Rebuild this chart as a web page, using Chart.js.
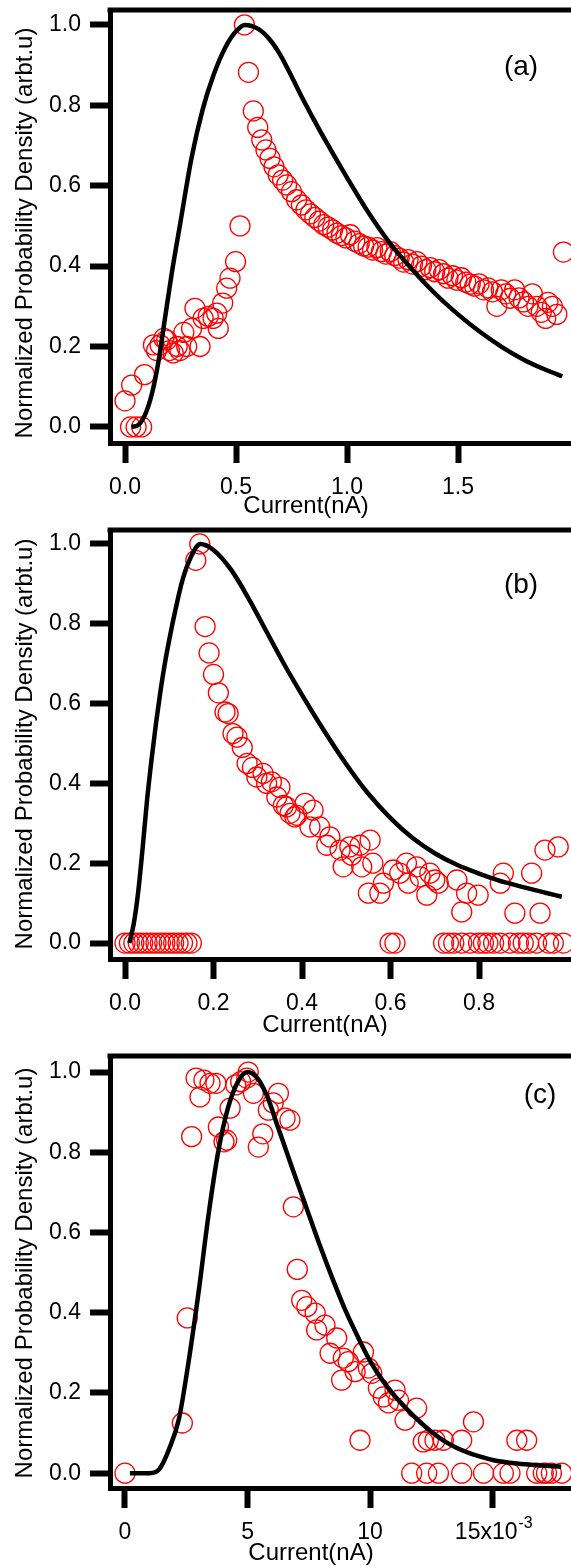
<!DOCTYPE html>
<html>
<head>
<meta charset="utf-8">
<script src="https://cdn.jsdelivr.net/npm/chart.js@4.4.0/dist/chart.umd.min.js"></script>
<style>
  html, body { margin: 0; padding: 0; background: #fff; overflow: hidden; }
  #page { position: relative; width: 571px; height: 1567px; }
  canvas { position: absolute; left: 0; }
</style>
</head>
<body>
<div id="page">
  <canvas id="chartA" width="571" height="520" style="top:0px"></canvas>
  <canvas id="chartB" width="571" height="516" style="top:520px"></canvas>
  <canvas id="chartC" width="571" height="519" style="top:1046px"></canvas>
</div>
<script>
// ---- panel (a) ----
const aCurrent = [0.000, 0.025, 0.030, 0.050, 0.075, 0.088, 0.128, 0.142, 0.158, 0.175, 0.188, 0.200,
  0.217, 0.235, 0.248, 0.265, 0.278, 0.300, 0.315, 0.338, 0.352, 0.375, 0.397, 0.413,
  0.420, 0.440, 0.458, 0.473, 0.498, 0.518, 0.538, 0.556, 0.578, 0.598, 0.616, 0.635,
  0.653, 0.671, 0.690, 0.710, 0.728, 0.750, 0.773,
  0.795, 0.815, 0.835, 0.855, 0.875, 0.895, 0.915, 0.935, 0.955, 0.975,
  0.995, 1.015, 1.035, 1.055, 1.075, 1.095, 1.115, 1.135, 1.155, 1.175,
  1.195, 1.215, 1.235, 1.255, 1.275, 1.295, 1.315, 1.335, 1.355, 1.375,
  1.395, 1.415, 1.435, 1.455, 1.475, 1.495, 1.515, 1.535, 1.555, 1.575,
  1.595, 1.615, 1.635, 1.655, 1.675, 1.695, 1.715, 1.735, 1.755, 1.775,
  1.795, 1.815, 1.835, 1.855, 1.875, 1.895,
  1.905, 1.925, 1.945, 1.975];
const aDensity = [0.065, 0.000, 0.104, 0.000, 0.000, 0.130, 0.204, 0.190, 0.204, 0.220, 0.216, 0.190,
  0.184, 0.200, 0.190, 0.235, 0.200, 0.245, 0.295, 0.200, 0.270, 0.275, 0.270, 0.283,
  0.245, 0.308, 0.345, 0.370, 0.411, 0.500, 1.000, 0.882, 0.786, 0.745, 0.714, 0.689,
  0.668, 0.647, 0.627, 0.614, 0.602, 0.585, 0.565,
  0.552, 0.540, 0.530, 0.521, 0.512, 0.503, 0.497, 0.490, 0.482, 0.476,
  0.470, 0.478, 0.462, 0.456, 0.450, 0.447, 0.440, 0.446, 0.436, 0.430,
  0.436, 0.426, 0.420, 0.410, 0.416, 0.405, 0.411, 0.400, 0.391, 0.396,
  0.386, 0.391, 0.381, 0.370, 0.376, 0.365, 0.371, 0.360, 0.355, 0.350,
  0.356, 0.341, 0.346, 0.336, 0.300, 0.341, 0.331, 0.320, 0.341, 0.321,
  0.311, 0.300, 0.331, 0.300, 0.285, 0.270,
  0.310, 0.300, 0.280, 0.435];
const aFitCurrent = [0.03, 0.06, 0.09, 0.12, 0.15, 0.18, 0.21, 0.25, 0.30, 0.35, 0.40, 0.45, 0.50, 0.54,
  0.60, 0.65, 0.70, 0.75, 0.80, 0.85, 0.90, 1.00, 1.10, 1.20, 1.30, 1.40, 1.50, 1.60, 1.70, 1.80, 1.90, 1.97];
const aFitDensity = [0.000, 0.005, 0.030, 0.080, 0.160, 0.270, 0.380, 0.510, 0.670, 0.790, 0.877, 0.942, 0.984, 1.000,
  0.990, 0.965, 0.925, 0.872, 0.817, 0.765, 0.715, 0.620, 0.530, 0.452, 0.388, 0.330, 0.280, 0.236, 0.198, 0.166, 0.141, 0.126];
const aTicks = [0, 0.5, 1.0, 1.5];

// ---- panel (b) ----
const bCurrent = [0.00, 0.01, 0.02, 0.03, 0.04, 0.05, 0.06, 0.07, 0.08, 0.09, 0.10, 0.11, 0.12, 0.13, 0.14, 0.15,
  0.160, 0.169, 0.181, 0.190, 0.200, 0.211, 0.226, 0.233, 0.244, 0.253,
  0.265, 0.276, 0.288, 0.298, 0.312, 0.320, 0.331, 0.343, 0.350, 0.358,
  0.365, 0.373, 0.384, 0.388, 0.407, 0.418, 0.425, 0.440, 0.456, 0.463,
  0.486, 0.493, 0.508, 0.512, 0.531, 0.535, 0.550, 0.554, 0.560, 0.576,
  0.584, 0.599, 0.606, 0.610, 0.621, 0.636, 0.640, 0.659, 0.667, 0.682,
  0.689, 0.700, 0.708, 0.720, 0.731, 0.743, 0.750, 0.761, 0.761, 0.772,
  0.780, 0.798, 0.799, 0.810, 0.820, 0.833, 0.848, 0.848, 0.855, 0.870,
  0.881, 0.889, 0.900, 0.912, 0.919, 0.930, 0.938, 0.949, 0.957, 0.968,
  0.979, 0.991];
const bDensity = [0, 0, 0, 0, 0, 0, 0, 0, 0, 0, 0, 0, 0, 0, 0, 0,
  0.959, 1.000, 0.793, 0.727, 0.673, 0.627, 0.579, 0.575, 0.525, 0.516,
  0.490, 0.450, 0.440, 0.416, 0.425, 0.400, 0.404, 0.366, 0.390, 0.345,
  0.341, 0.325, 0.316, 0.320, 0.350, 0.291, 0.333, 0.291, 0.245, 0.266,
  0.233, 0.191, 0.241, 0.220, 0.245, 0.191, 0.125, 0.258, 0.200, 0.125,
  0.150, 0.000, 0.183, 0.000, 0.175, 0.200, 0.150, 0.191, 0.166, 0.120,
  0.175, 0.158, 0.150, 0.000, 0.000, 0.000, 0.158, 0.078, 0.000, 0.125,
  0.000, 0.120, 0.000, 0.000, 0.000, 0.000, 0.150, 0.000, 0.175, 0.000,
  0.075, 0.000, 0.000, 0.000, 0.175, 0.000, 0.075, 0.233, 0.000, 0.000,
  0.241, 0.000];
const bFitCurrent = [0.010, 0.020, 0.030, 0.040, 0.050, 0.060, 0.070, 0.080, 0.090, 0.100, 0.115, 0.130, 0.150, 0.170,
  0.200, 0.240, 0.280, 0.320, 0.360, 0.400, 0.450, 0.500, 0.550, 0.600, 0.650, 0.700, 0.750, 0.800, 0.850, 0.900, 0.950, 0.987];
const bFitDensity = [0.000, 0.050, 0.130, 0.240, 0.360, 0.460, 0.550, 0.630, 0.700, 0.760, 0.840, 0.910, 0.970, 1.000,
  0.985, 0.935, 0.862, 0.780, 0.698, 0.622, 0.532, 0.448, 0.374, 0.313, 0.263, 0.225, 0.196, 0.174, 0.155, 0.140, 0.126, 0.116];
const bTicks = [0, 0.2, 0.4, 0.6, 0.8];

// ---- panel (c), current in units of 1e-3 nA ----
const cCurrent = [0.00, 2.34, 2.54, 2.72, 2.90, 3.06, 3.22, 3.47, 3.71, 3.81,
  4.04, 4.15, 4.29, 4.52, 4.72, 4.97, 5.03, 5.24, 5.44, 5.62,
  5.85, 6.05, 6.26, 6.53, 6.73, 6.87, 7.03, 7.21, 7.42, 7.76,
  7.82, 8.16, 8.37, 8.64, 8.84, 8.91, 9.11, 9.39, 9.59, 9.73,
  9.93, 10.07, 10.34, 10.54, 10.75, 11.02, 11.16, 11.43, 11.70, 11.90,
  12.17, 12.31, 12.38, 12.65, 12.79, 12.99, 13.74, 13.74, 14.22, 14.63,
  15.44, 15.71, 15.99, 16.39, 16.80, 17.07, 17.20, 17.40, 17.82];
const cDensity = [0.000, 0.125, 0.387, 0.839, 0.985, 0.938, 0.980, 0.972, 0.972, 0.863,
  0.826, 0.830, 0.910, 0.968, 0.976, 0.985, 1.000, 0.947, 0.813, 0.846,
  0.905, 0.923, 0.947, 0.885, 0.880, 0.664, 0.508, 0.431, 0.415, 0.399,
  0.357, 0.369, 0.299, 0.337, 0.232, 0.287, 0.278, 0.253, 0.082, 0.302,
  0.262, 0.249, 0.212, 0.190, 0.175, 0.207, 0.182, 0.132, 0.000, 0.162,
  0.078, 0.000, 0.082, 0.082, 0.000, 0.082, 0.082, 0.000, 0.128, 0.000,
  0.000, 0.000, 0.082, 0.082, 0.000, 0.000, 0.000, 0.000, 0.000];
const cFitCurrent = [0.2, 1.0, 1.4, 1.8, 2.2, 2.6, 3.0, 3.4, 3.8, 4.2, 4.6, 5.0, 5.4, 5.8, 6.2, 6.6,
  7.0, 7.5, 8.0, 8.5, 9.0, 9.5, 10.0, 10.5, 11.0, 11.5, 12.0, 12.5, 13.0, 13.5, 14.0, 14.5, 15.0, 16.0, 17.0, 17.8];
const cFitDensity = [0.000, 0.000, 0.010, 0.060, 0.135, 0.280, 0.450, 0.640, 0.800, 0.910, 0.975, 1.000, 0.985, 0.940, 0.870, 0.800,
  0.730, 0.645, 0.560, 0.480, 0.405, 0.340, 0.280, 0.232, 0.193, 0.160, 0.130, 0.103, 0.081, 0.064, 0.051, 0.041, 0.033, 0.024, 0.019, 0.016];
const cTicks = [0, 5, 10, 15];

const yTicks = [0, 0.2, 0.4, 0.6, 0.8, 1.0];

const FONT = '"Liberation Sans", Arial, Helvetica, sans-serif';
Chart.defaults.font.family = FONT;
Chart.defaults.color = '#000';

function toPoints(xs, ys) {
  return xs.map((x, i) => ({ x: x, y: ys[i] }));
}

// no extra room for edge labels, the layout padding decides the plot box
function noPadding(s) {
  s.paddingTop = 0;
  s.paddingBottom = 0;
  s.paddingLeft = 0;
  s.paddingRight = 0;
}

// top frame line, panel letter and axis titles
const framePlugin = {
  id: 'frame',
  afterDraw(chart, args, opts) {
    const ctx = chart.ctx;
    const a = chart.chartArea;
    ctx.save();
    ctx.strokeStyle = '#000';
    ctx.lineWidth = 5;
    ctx.beginPath();
    ctx.moveTo(a.left - 2.5, a.top);
    ctx.lineTo(a.right + 5, a.top);
    ctx.stroke();

    ctx.fillStyle = '#000';
    ctx.textBaseline = 'alphabetic';
    ctx.textAlign = 'center';
    ctx.font = '28px ' + FONT;
    ctx.fillText(opts.letter, a.left + opts.letterX, a.top + opts.letterY);

    ctx.font = '24px ' + FONT;
    ctx.fillText('Current(nA)', a.left + opts.titleX, a.bottom + opts.titleY);

    if (opts.exponent) {
      const xs = chart.scales.x;
      ctx.font = '23px ' + FONT;
      const full = ctx.measureText('15x10  ').width;
      const part = ctx.measureText('15x10').width;
      const px = xs.getPixelForValue(15);
      ctx.textAlign = 'left';
      ctx.font = '16px ' + FONT;
      ctx.fillText(opts.exponent, px - full / 2 + part + 1, a.bottom + 40);
      ctx.textAlign = 'center';
    }

    ctx.font = '24px ' + FONT;
    ctx.translate(32, a.top + opts.yTitleMid);
    ctx.rotate(-Math.PI / 2);
    ctx.fillText('Normalized Probability Density (arbt.u)', 0, 0);
    ctx.restore();
  }
};

function makePanel(id, p) {
  const ctx = document.getElementById(id).getContext('2d');
  return new Chart(ctx, {
    type: 'scatter',
    data: {
      datasets: [
        {
          type: 'line',
          data: toPoints(p.fitX, p.fitY),
          borderColor: '#000',
          borderWidth: 4.5,
          pointRadius: 0,
          fill: false,
          cubicInterpolationMode: 'monotone',
          order: 0
        },
        {
          data: toPoints(p.x, p.y),
          borderColor: '#ff0000',
          backgroundColor: 'rgba(0,0,0,0)',
          borderWidth: 1.3,
          pointRadius: 10,
          pointHoverRadius: 10,
          order: 1
        }
      ]
    },
    options: {
      responsive: false,
      animation: false,
      clip: false,
      layout: { autoPadding: false, padding: { top: 10, left: 0, right: 0, bottom: 0 } },
      plugins: {
        legend: { display: false },
        tooltip: { enabled: false },
        frame: p.frame
      },
      scales: {
        x: {
          type: 'linear',
          min: p.xMin,
          max: p.xMax,
          afterFit: s => { s.height = 77; noPadding(s); },
          afterBuildTicks: s => { s.ticks = p.ticks.map(v => ({ value: v })); },
          ticks: {
            font: { size: 23 },
            padding: 11,
            maxRotation: 0,
            autoSkip: false,
            callback: p.tickLabel
          },
          grid: { drawOnChartArea: false, tickLength: 20, tickWidth: 6, tickColor: '#000' },
          border: { width: 5, color: '#000' }
        },
        y: {
          type: 'linear',
          min: p.yMin,
          max: p.yMax,
          afterFit: s => { s.width = 110; noPadding(s); },
          afterBuildTicks: s => { s.ticks = yTicks.map(v => ({ value: v })); },
          ticks: {
            font: { size: 23 },
            padding: 9,
            callback: v => v.toFixed(1)
          },
          grid: { drawOnChartArea: false, tickLength: 20, tickWidth: 6, tickColor: '#000' },
          border: { width: 5, color: '#000' }
        }
      }
    },
    plugins: [framePlugin]
  });
}

makePanel('chartA', {
  x: aCurrent, y: aDensity, fitX: aFitCurrent, fitY: aFitDensity,
  xMin: -0.0676, xMax: 2.009, yMin: -0.04, yMax: 1.037,
  ticks: aTicks, tickLabel: v => v.toFixed(1),
  frame: { letter: '(a)', letterX: 411, letterY: 65, titleX: 196, titleY: 70, yTitleMid: 223 }
});

makePanel('chartB', {
  x: bCurrent, y: bDensity, fitX: bFitCurrent, fitY: bFitDensity,
  xMin: -0.0339, xMax: 1.0079, yMin: -0.04, yMax: 1.035,
  ticks: bTicks, tickLabel: v => v.toFixed(1),
  frame: { letter: '(b)', letterX: 411, letterY: 63, titleX: 215, titleY: 73, yTitleMid: 214 }
});

makePanel('chartC', {
  x: cCurrent, y: cDensity, fitX: cFitCurrent, fitY: cFitDensity,
  xMin: -0.612, xMax: 18.2, yMin: -0.037, yMax: 1.04,
  ticks: cTicks, tickLabel: v => (v === 15 ? '15x10  ' : String(v)),
  frame: { letter: '(c)', letterX: 430, letterY: 47, titleX: 201, titleY: 72, yTitleMid: 217, exponent: '-3' }
});
</script>
</body>
</html>
